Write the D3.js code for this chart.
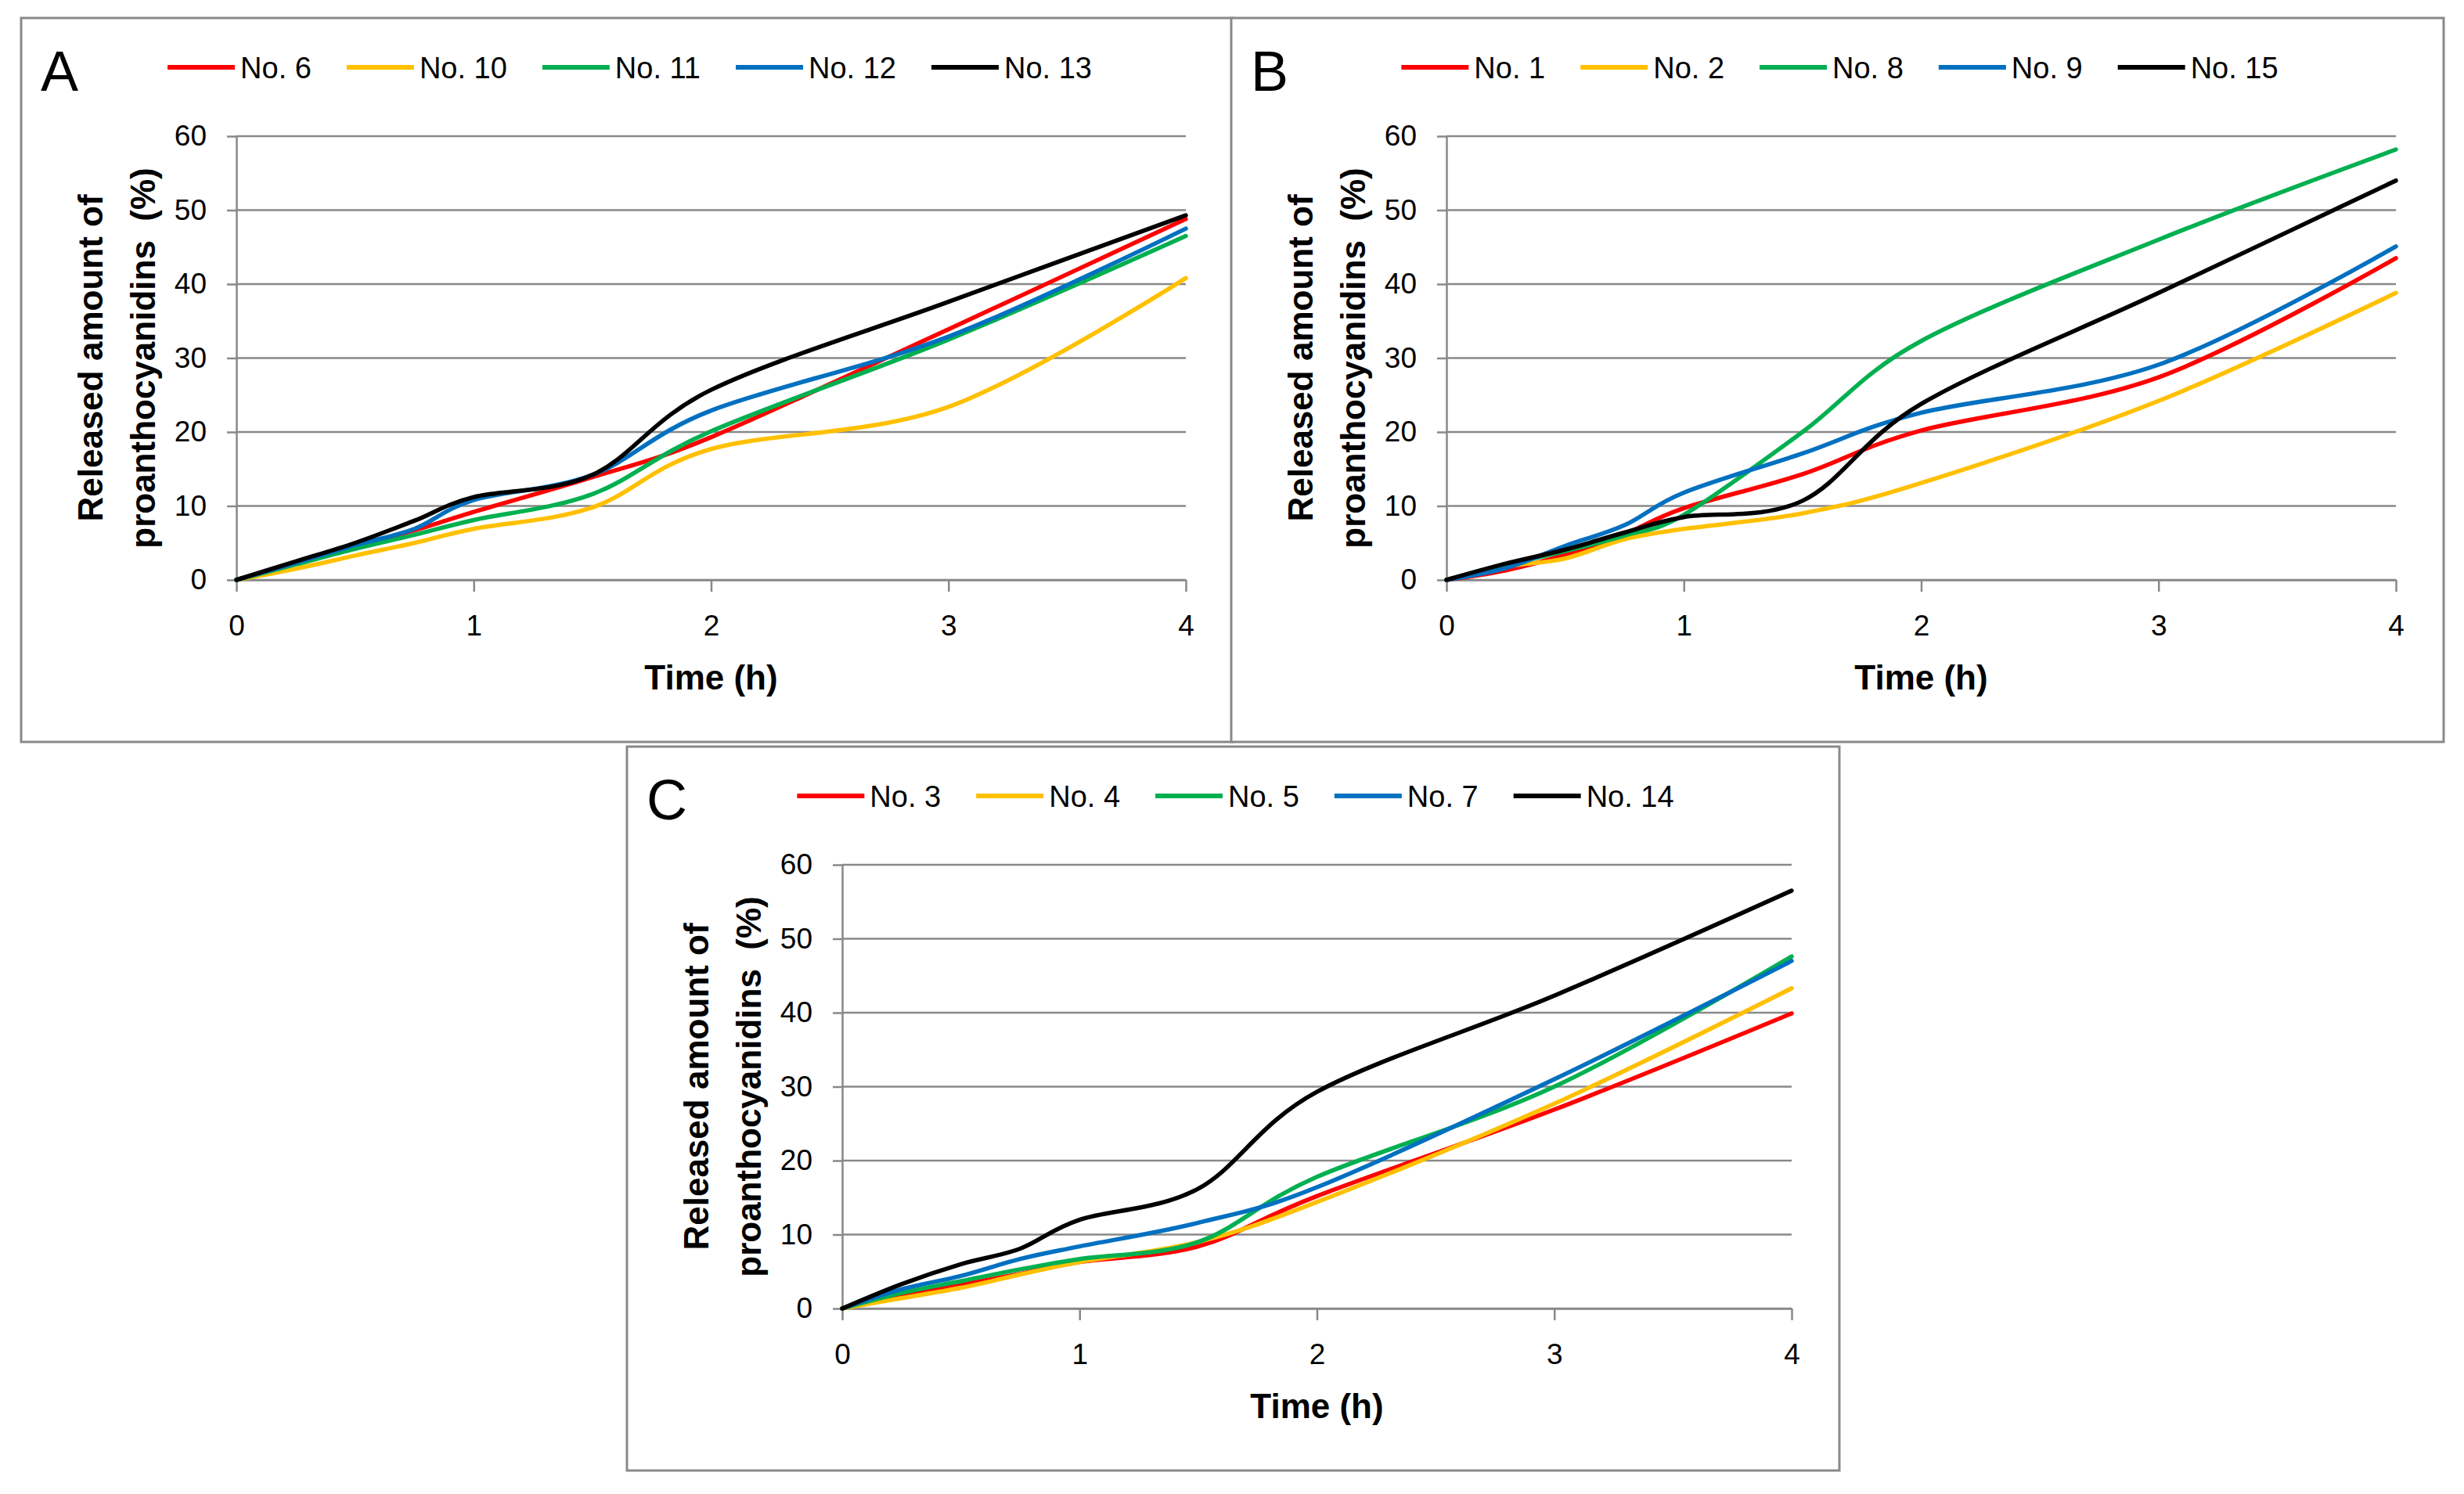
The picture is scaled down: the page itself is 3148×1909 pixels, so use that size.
<!DOCTYPE html>
<html>
<head>
<meta charset="utf-8">
<title>Release of proanthocyanidins</title>
<script src="https://d3js.org/d3.v7.min.js"></script>
<style>
    body { margin: 0; background: #fff; }
    svg { display: block; }
    text { font-family: "Liberation Sans", Arial, sans-serif; }
</style>
</head>
<body>
<svg id="chart" width="3148" height="1909"></svg>
<script>
// sampling times (h) and axis ticks
var timeH = [0, 0.25, 0.5, 0.75, 1, 1.5, 2, 3, 4];
var xTicks = [0, 1, 2, 3, 4];
var yTicks = [0, 10, 20, 30, 40, 50, 60];

// panel A
var labelsA = ["No. 6", "No. 10", "No. 11", "No. 12", "No. 13"];
var no6  = [0, 2.2, 4.5, 6.7, 9.2, 13.9, 19.3, 33.9, 48.8];
var no10 = [0, 1.5, 3.3, 5.0, 6.9, 9.8, 17.7, 23.4, 40.8];
var no11 = [0, 2.1, 4.2, 6.1, 8.1, 11.6, 20.1, 32.5, 46.5];
var no12 = [0, 2.3, 4.7, 6.9, 10.8, 14.2, 22.9, 32.9, 47.5];
var no13 = [0, 2.5, 5.0, 8.0, 11.2, 14.2, 25.7, 37.6, 49.3];

// panel B
var labelsB = ["No. 1", "No. 2", "No. 8", "No. 9", "No. 15"];
var no1  = [0, 1.3, 3.4, 6.2, 9.7, 14.3, 20.2, 27.4, 43.5];
var no2  = [0, 1.8, 2.9, 5.5, 6.9, 9.0, 13.1, 24.2, 38.8];
var no8  = [0, 2.0, 3.9, 6.0, 8.8, 20.0, 32.3, 46.0, 58.2];
var no9  = [0, 1.6, 4.6, 7.4, 11.8, 17.1, 22.6, 29.1, 45.1];
var no15 = [0, 2.2, 4.1, 6.4, 8.5, 10.7, 23.8, 38.8, 54.0];

// panel C
var labelsC = ["No. 3", "No. 4", "No. 5", "No. 7", "No. 14"];
var no3  = [0, 1.8, 3.2, 4.7, 6.3, 8.4, 15.2, 26.9, 39.9];
var no4  = [0, 1.4, 2.8, 4.6, 6.3, 9.0, 14.4, 27.7, 43.3];
var no5  = [0, 2.1, 3.7, 5.3, 6.7, 9.0, 17.8, 30.0, 47.6];
var no7  = [0, 2.6, 4.4, 6.7, 8.4, 11.6, 16.4, 31.0, 47.0];
var no14 = [0, 3.3, 6.0, 8.1, 12.0, 16.2, 29.3, 42.3, 56.5];

var seriesColors = ["#ff0000", "#ffc000", "#00b050", "#0070c0", "#000000"];

var panels = [
    { letter: "A", left: 27,   top: 23,  labels: labelsA, values: [no6, no10, no11, no12, no13] },
    { letter: "B", left: 1573, top: 23,  labels: labelsB, values: [no1, no2, no8, no9, no15] },
    { letter: "C", left: 801,  top: 954, labels: labelsC, values: [no3, no4, no5, no7, no14] }
];

var panelW = 1549, panelH = 925;
var plotX = 275, plotY = 151, plotW = 1213, plotH = 567;
var gray = "#898989";

var svg = d3.select("#chart");
svg.append("rect").attr("width", 3148).attr("height", 1909).attr("fill", "#fff");

panels.forEach(drawPanel);

function drawPanel(p) {
    var g = svg.append("g").attr("transform", "translate(" + p.left + "," + p.top + ")");

    g.append("rect")
        .attr("width", panelW).attr("height", panelH)
        .attr("fill", "#fff").attr("stroke", gray).attr("stroke-width", 3);

    var x = d3.scaleLinear().domain([0, 4]).range([plotX, plotX + plotW]);
    var y = d3.scaleLinear().domain([0, 60]).range([plotY + plotH, plotY]);

    // horizontal gridlines
    g.append("g").selectAll("line")
        .data(yTicks)
        .join("line")
        .attr("x1", x(0)).attr("x2", x(4))
        .attr("y1", function(d) { return y(d); })
        .attr("y2", function(d) { return y(d); })
        .attr("stroke", gray).attr("stroke-width", 2.5);

    var yAxis = g.append("g")
        .attr("transform", "translate(" + x(0) + ",0)")
        .call(d3.axisLeft(y).tickValues(yTicks).tickFormat(d3.format("d"))
            .tickSize(12).tickSizeOuter(0).tickPadding(26));

    var xAxis = g.append("g")
        .attr("transform", "translate(0," + y(0) + ")")
        .call(d3.axisBottom(x).tickValues(xTicks).tickFormat(d3.format("d"))
            .tickSize(15).tickSizeOuter(0).tickPadding(30));

    [yAxis, xAxis].forEach(function(a) {
        a.select(".domain").attr("stroke", gray).attr("stroke-width", 2.5);
        a.selectAll(".tick line").attr("stroke", gray).attr("stroke-width", 2.5);
        a.selectAll(".tick text")
            .attr("font-family", "'Liberation Sans', Arial, sans-serif")
            .attr("font-size", 37).attr("fill", "#000");
    });

    // series
    var line = d3.line()
        .x(function(d, i) { return x(timeH[i]); })
        .y(function(d) { return y(d); })
        .curve(d3.curveCardinal.tension(0));

    g.append("g").selectAll("path")
        .data(p.values)
        .join("path")
        .attr("d", line)
        .attr("fill", "none")
        .attr("stroke", function(d, i) { return seriesColors[i]; })
        .attr("stroke-width", 5.5)
        .attr("stroke-linejoin", "round")
        .attr("stroke-linecap", "round");

    // axis titles
    g.append("text")
        .attr("x", plotX + plotW / 2).attr("y", plotY + plotH + 140)
        .attr("text-anchor", "middle")
        .attr("font-size", 44).attr("font-weight", "bold")
        .text("Time (h)");

    var midY = plotY + plotH / 2;
    g.append("text")
        .attr("transform", "translate(104," + midY + ") rotate(-90)")
        .attr("text-anchor", "middle")
        .attr("font-size", 44).attr("font-weight", "bold")
        .text("Released amount of");
    g.append("text")
        .attr("transform", "translate(171," + midY + ") rotate(-90)")
        .attr("text-anchor", "middle")
        .attr("font-size", 44).attr("font-weight", "bold")
        .style("white-space", "pre")
        .text("proanthocyanidins  (%)");

    // panel letter
    g.append("text")
        .attr("x", 25).attr("y", 93)
        .attr("font-size", 72)
        .text(p.letter);

    // legend, centred in the panel
    var leg = g.append("g");
    var cx = 0;
    p.labels.forEach(function(lab, i) {
        leg.append("line")
            .attr("x1", cx).attr("x2", cx + 86)
            .attr("y1", 0).attr("y2", 0)
            .attr("stroke", seriesColors[i]).attr("stroke-width", 6);
        var t = leg.append("text")
            .attr("x", cx + 93).attr("y", 14)
            .attr("font-size", 38)
            .text(lab);
        cx += 93 + t.node().getComputedTextLength() + 45;
    });
    var legW = cx - 45;
    leg.attr("transform", "translate(" + (panelW / 2 - legW / 2 + 3) + ",63)");
}
</script>
</body>
</html>
